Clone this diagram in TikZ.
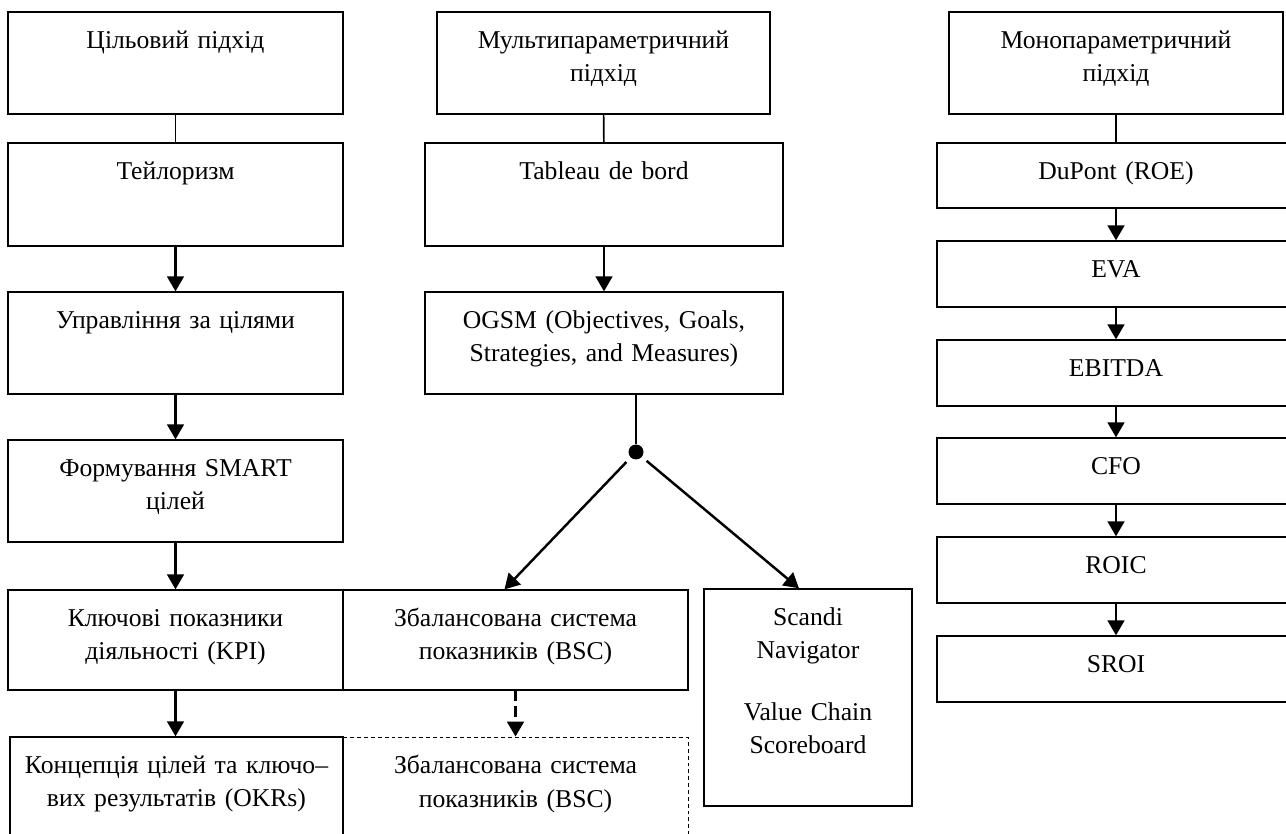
\documentclass[tikz,border=0pt]{standalone}
\usepackage{fontspec}
\setmainfont{Liberation Serif}
\usepackage{tikz}
\usetikzlibrary{positioning,fit,arrows.meta}

\tikzset{
  box/.style={draw, line width=0.75pt, inner sep=0pt},
  dbox/.style={draw, line width=0.5pt, dash pattern=on 2.2pt off 1.7pt, inner sep=0pt},
  txt/.style={align=center, text width=7.5cm, inner sep=0pt,
    font=\fontsize{14.6pt}{19pt}\selectfont, execute at begin node=\strut},
  link/.style={line width=0.9pt},
  arr/.style={line width=1.4pt, -{Triangle[length=8.5pt,width=9.5pt]}},
  dot/.style={circle, fill, inner sep=0pt, minimum size=0.3cm}
}

\begin{document}
\begin{tikzpicture}[x=0.02cm,y=-0.02cm]
\useasboundingbox (0,0) rectangle (1286,834);
\clip (0,0) rectangle (1286,834);

% goal-oriented column
\node[box, fit={(8,12) (343,114)}] (goal) {};
\node[txt, below=0.27cm of goal.north] (goal-t) {Цільовий підхід};
\node[box, fit={(8,143) (343,246)}] (taylor) {};
\node[txt, below=0.27cm of taylor.north] (taylor-t) {Тейлоризм};
\node[box, fit={(8,292) (343,394)}] (mbo) {};
\node[txt, below=0.27cm of mbo.north] (mbo-t) {Управління за цілями};
\node[box, fit={(8,440) (343,542)}] (smart) {};
\node[txt, below=0.27cm of smart.north] (smart-t) {Формування SMART\\цілей};
\node[box, fit={(8,590) (343,690)}] (kpi) {};
\node[txt, below=0.27cm of kpi.north] (kpi-t) {Ключові показники\\діяльності (KPI)};
\node[box, fit={(10,737) (343,860)}] (okr) {};
\node[txt, below=0.27cm of okr.north] (okr-t) {Концепція цілей та ключо–\\вих результатів (OKRs)};

% multi-parameter column
\node[box, fit={(437,12) (770,114)}] (multi) {};
\node[txt, below=0.27cm of multi.north] (multi-t) {Мультипараметричний\\підхід};
\node[box, fit={(425,143) (783,246)}] (tableau) {};
\node[txt, below=0.27cm of tableau.north] (tableau-t) {Tableau de bord};
\node[box, fit={(425,292) (783,394)}] (ogsm) {};
\node[txt, below=0.27cm of ogsm.north] (ogsm-t) {OGSM (Objectives, Goals,\\Strategies, and Measures)};
\node[dot] (split) at (636,452) {};
\node[box, fit={(343,590) (688,690)}] (bsc) {};
\node[txt, below=0.27cm of bsc.north] (bsc-t) {Збалансована система\\показників (BSC)};
\node[dbox, fit={(343,737) (688,860)}] (bsc2) {};
\node[txt, below=0.27cm of bsc2.north] (bsc2-t) {Збалансована система\\показників (BSC)};
\node[box, fit={(704,589) (912,806)}] (scandi) {};
\node[txt, below=0.27cm of scandi.north] (scandi-t) {Scandi\\Navigator\\[0.56cm]Value Chain\\Scoreboard};

% mono-parameter column
\node[box, fit={(949,12) (1283,114)}] (mono) {};
\node[txt, below=0.27cm of mono.north] (mono-t) {Монопараметричний\\підхід};
\node[box, fit={(937,143) (1295,208)}] (dupont) {};
\node[txt, below=0.27cm of dupont.north] (dupont-t) {DuPont (ROE)};
\node[box, fit={(937,241) (1295,307)}] (eva) {};
\node[txt, below=0.27cm of eva.north] (eva-t) {EVA};
\node[box, fit={(937,340) (1295,406)}] (ebitda) {};
\node[txt, below=0.27cm of ebitda.north] (ebitda-t) {EBITDA};
\node[box, fit={(937,438) (1295,504)}] (cfo) {};
\node[txt, below=0.27cm of cfo.north] (cfo-t) {CFO};
\node[box, fit={(937,537) (1295,603)}] (roic) {};
\node[txt, below=0.27cm of roic.north] (roic-t) {ROIC};
\node[box, fit={(937,636) (1295,702)}] (sroi) {};
\node[txt, below=0.27cm of sroi.north] (sroi-t) {SROI};

% connectors
\draw[link] (goal) -- (taylor);
\draw[arr] (taylor) -- (mbo);
\draw[arr] (mbo) -- (smart);
\draw[arr] (smart) -- (kpi);
\draw[arr] (kpi.south) -- (kpi.south |- okr.north);

\draw[link] (multi) -- (tableau);
\draw[arr] (tableau) -- (ogsm);
\draw[link] (ogsm.south -| split) -- (split);
\draw[arr, shorten <=0.12cm] (split) -- ([xshift=-0.22cm]bsc.north);
\draw[arr, shorten <=0.12cm] (split) -- ([xshift=-0.18cm]scandi.north);
\draw[arr, dash pattern=on 6pt off 3pt] (bsc) -- (bsc2);

\draw[link] (mono) -- (dupont);
\draw[arr] (dupont) -- (eva);
\draw[arr] (eva) -- (ebitda);
\draw[arr] (ebitda) -- (cfo);
\draw[arr] (cfo) -- (roic);
\draw[arr] (roic) -- (sroi);
\end{tikzpicture}
\end{document}
